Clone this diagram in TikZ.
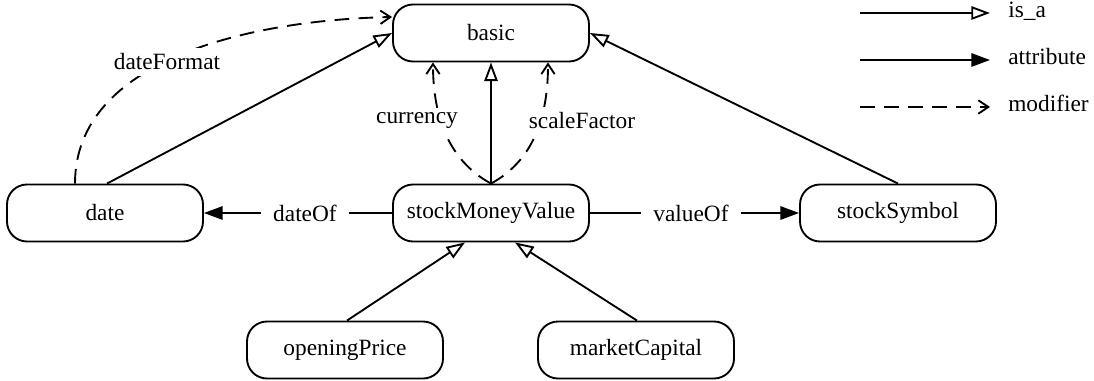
\documentclass[tikz,border=0pt]{standalone}
\usepackage{fontspec}
\setmainfont{Liberation Serif}
\usetikzlibrary{arrows.meta,calc}

\begin{document}
\begin{tikzpicture}[x=0.75pt,y=0.75pt,yscale=-1,xscale=1,
    every node/.style={font=\fontsize{17.5}{21}\selectfont},
    cls/.style={draw, line width=1.4pt, rounded corners=15pt, minimum width=147pt, minimum height=42.75pt, inner sep=0pt},
    lbl/.style={fill=white, inner xsep=9pt, inner ysep=4pt},
    key/.style={anchor=base west, inner sep=0pt},
    isa/.style={line width=1.4pt, -{Triangle[open, length=14pt, width=10pt]}},
    attr/.style={line width=1.4pt, -{Triangle[length=14pt, width=10pt]}},
    modif/.style={line width=1.4pt, dash pattern={on 11pt off 7pt}, -{Straight Barb[length=7.5pt, width=10pt]}}]
    \useasboundingbox (0,0) rectangle (1094,381);

    % Text Node
    \node[cls] (basic) at (491,33) {basic};
    % Text Node
    \node[cls] (date) at (105,213) {date};
    % Text Node
    \node[cls] (smv) at (491,213) {stockMoneyValue};
    % Text Node
    \node[cls] (symbol) at (898,213) {stockSymbol};
    % Text Node
    \node[cls] (opening) at (345,350) {openingPrice};
    % Text Node
    \node[cls] (market) at (636,350) {marketCapital};

    %Straight Lines (is_a)
    \draw[isa] ($(date.north)+(2,0)$) -- (basic.west);
    \draw[isa] (symbol.north) -- (basic.east);
    \draw[isa] (smv.north) -- (basic.south);
    \draw[isa] ($(opening.north)+(2,0)$) -- ($(smv.south)+(-26,0)$);
    \draw[isa] ($(market.north)+(1,0)$) -- ($(smv.south)+(24,0)$);

    %Straight Lines (attribute)
    \draw[attr] (smv.west) -- (date.east) node[lbl, pos=0.463] (ldate) {dateOf};
    \draw[attr] (smv.east) -- (symbol.west) node[lbl, pos=0.483] (lvalue) {valueOf};

    %Curve Lines (modifier)
    \draw[modif] ($(date.north)+(-30,0)$) .. controls +(0,-124) and +(-142,3) .. ($(basic.west)+(0,-16)$);
    \draw[modif] (smv.north) .. controls +(-46,-25) and +(0,48) .. ($(basic.south)+(-58,0)$);
    \draw[modif] (smv.north) .. controls +(46,-25) and +(0,48) .. ($(basic.south)+(57,0)$);
    \node[lbl] (lformat) at (167,62) {dateFormat};
    \node[lbl] (lcurrency) at (417,121) {currency};
    \node[lbl] (lscale) at (582,121) {scaleFactor};

    % Legend
    \coordinate (k1a) at (860,13);  \coordinate (k1b) at (990,13);
    \coordinate (k2a) at (860,60);  \coordinate (k2b) at (990,60);
    \coordinate (k3a) at (860,107); \coordinate (k3b) at (990,107);
    \draw[isa] (k1a) -- (k1b);
    \draw[attr] (k2a) -- (k2b);
    \draw[modif] (k3a) -- (k3b);
    \node[key] (kisa) at (1008,18) {is\_a};
    \node[key] (kattr) at (1008,65) {attribute};
    \node[key] (kmod) at (1008,112) {modifier};

\end{tikzpicture}
\end{document}
